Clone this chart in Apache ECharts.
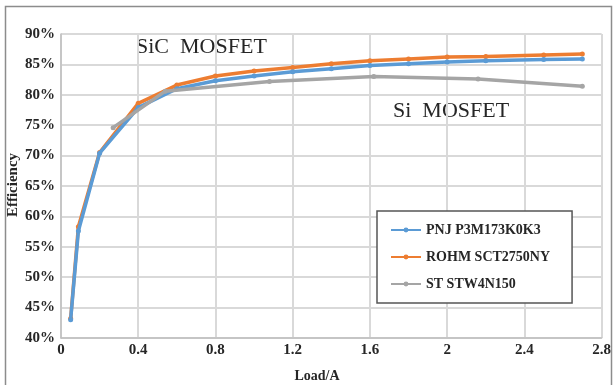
<!DOCTYPE html>
<html>
<head>
<meta charset="utf-8">
<script src="https://cdn.jsdelivr.net/npm/echarts@6/dist/echarts.min.js"></script>
<style>
  html, body { margin: 0; padding: 0; background: #fff; }
  #chart { width: 614px; height: 385px; }
</style>
</head>
<body>
<div id="chart"></div>
<script>
// load (A) and efficiency (%)
let loadSiC = [0.05, 0.09, 0.2, 0.4, 0.6, 0.8, 1.0, 1.2, 1.4, 1.6, 1.8, 2.0, 2.2, 2.5, 2.7];
let effPNJ  = [43.0, 57.6, 70.4, 77.9, 81.0, 82.3, 83.1, 83.8, 84.3, 84.8, 85.1, 85.4, 85.6, 85.8, 85.9];
let effROHM = [43.2, 58.3, 70.5, 78.6, 81.6, 83.1, 83.9, 84.5, 85.1, 85.6, 85.9, 86.2, 86.3, 86.55, 86.7];
let loadSi  = [0.27, 0.54, 1.08, 1.62, 2.16, 2.7];
let effST   = [74.6, 80.6, 82.2, 83.0, 82.6, 81.4];
let seriesNames = ['PNJ P3M173K0K3', 'ROHM SCT2750NY', 'ST STW4N150'];
let colors = ['#5b9bd5', '#ed7d31', '#a5a5a5'];

let pairs = function (xs, ys) {
    return xs.map(function (x, i) { return [x, ys[i]]; });
};

let serif = 'Liberation Serif';
let myChart = echarts.init(document.getElementById('chart'));

let lineSeries = function (name, data, color, z) {
    return {
        name: name,
        type: 'line',
        data: data,
        z: z,
        symbol: 'circle',
        symbolSize: 5,
        showSymbol: true,
        lineStyle: { width: 3.5, color: color },
        itemStyle: { color: color },
        emphasis: { disabled: true }
    };
};

let options = {
    animation: false,
    color: colors,
    grid: { left: 61, right: 11, top: 34, bottom: 47 },
    xAxis: {
        type: 'value',
        min: 0,
        max: 2.8,
        interval: 0.4,
        axisLine: { show: true, lineStyle: { color: '#bfbfbf', width: 1.5 } },
        axisTick: { show: false },
        splitLine: { show: true, lineStyle: { color: '#d9d9d9', width: 2 } },
        axisLabel: {
            margin: 5,
            fontFamily: serif, fontWeight: 'bold', fontSize: 15, color: '#262626',
            formatter: function (v) { return String(Math.round(v * 10) / 10); }
        }
    },
    yAxis: {
        type: 'value',
        min: 40,
        max: 90,
        interval: 5,
        axisLine: { show: true, lineStyle: { color: '#bfbfbf', width: 1.5 } },
        axisTick: { show: false },
        splitLine: { show: true, lineStyle: { color: '#d9d9d9', width: 2 } },
        axisLabel: {
            margin: 6,
            fontFamily: serif, fontWeight: 'bold', fontSize: 15, color: '#262626',
            formatter: '{value}%'
        }
    },
    legend: {
        orient: 'vertical',
        left: 377,
        top: 211,
        padding: [11, 22, 11, 13],
        itemGap: 11,
        itemWidth: 30,
        itemHeight: 6,
        backgroundColor: '#fff',
        borderColor: '#555',
        borderWidth: 1.5,
        data: seriesNames,
        textStyle: { fontFamily: serif, fontWeight: 'bold', fontSize: 14, color: '#262626', lineHeight: 16 }
    },
    graphic: [
        {
            type: 'rect',
            shape: { x: 5.5, y: 6.5, width: 606, height: 385 },
            style: { fill: 'none', stroke: '#8c8c8c', lineWidth: 1.5 },
            silent: true
        },
        {
            type: 'text', left: 136, top: 36,
            style: { text: 'SiC  MOSFET', fontFamily: serif, fontSize: 22, fill: '#262626' }
        },
        {
            type: 'text', left: 393, top: 100,
            style: { text: 'Si  MOSFET', fontFamily: serif, fontSize: 22, fill: '#262626' }
        },
        {
            type: 'text', x: 317, y: 376,
            style: {
                text: 'Load/A', fontFamily: serif, fontWeight: 'bold', fontSize: 14,
                fill: '#262626', align: 'center', verticalAlign: 'middle'
            }
        },
        {
            type: 'text', x: 13, y: 185, rotation: Math.PI / 2,
            style: {
                text: 'Efficiency', fontFamily: serif, fontWeight: 'bold', fontSize: 15,
                fill: '#262626', align: 'center', verticalAlign: 'middle'
            }
        }
    ],
    series: [
        lineSeries(seriesNames[0], pairs(loadSiC, effPNJ), colors[0], 3),
        lineSeries(seriesNames[1], pairs(loadSiC, effROHM), colors[1], 2),
        lineSeries(seriesNames[2], pairs(loadSi, effST), colors[2], 4)
    ]
};
myChart.setOption(options);
</script>
</body>
</html>
